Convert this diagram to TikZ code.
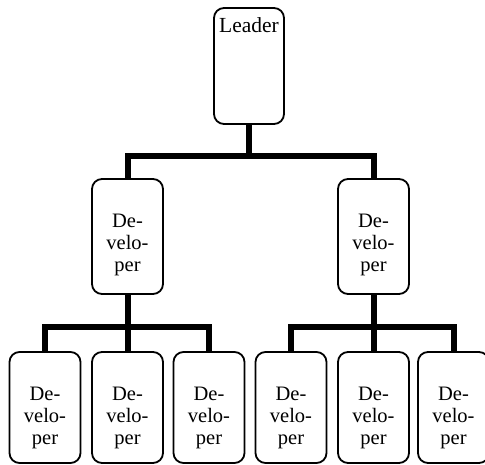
\documentclass[tikz,border=0pt]{standalone}
\usepackage{fontspec}
\setmainfont{Liberation Serif}
\begin{document}
\begin{tikzpicture}[x=1pt,y=-1pt,
  box/.style={draw=black, line width=1.8pt, rounded corners=10pt, fill=white,
    minimum width=71pt, inner sep=0pt},
  devtext/.style={anchor=north, inner sep=0pt, align=center, yshift=-36pt,
    font=\fontsize{20.5}{21.8}\selectfont},
  dev/.style={box, label={[devtext]north:De-\\velo-\\per}},
  conn/.style={draw=black, line width=6pt, line join=miter}]
\useasboundingbox (0,0) rectangle (485,465);
% top
\node[box, minimum width=70pt, minimum height=116pt,
  label={[anchor=north, font=\fontsize{21.5}{24}\selectfont, inner sep=0pt, yshift=-10pt]north:Leader}] (leader) at (249,66) {};
% middle
\node[dev, minimum height=115pt] (mid1) at (127.5,236.5) {};
\node[dev, minimum height=115pt] (mid2) at (373.5,236.5) {};
% bottom
\node[dev, minimum height=111pt] (b1) at (45,407.5) {};
\node[dev, minimum height=111pt] (b2) at (127.5,407.5) {};
\node[dev, minimum height=111pt] (b3) at (209,407.5) {};
\node[dev, minimum height=111pt] (b4) at (291,407.5) {};
\node[dev, minimum height=111pt] (b5) at (373.5,407.5) {};
\node[dev, minimum height=111pt] (b6) at (453.5,407.5) {};
% junctions
\coordinate (j0) at (249,156.5);
\coordinate (j1) at (127.5,327);
\coordinate (j2) at (373.5,327);
\draw[conn] (leader.south) -- (j0);
\draw[conn] (mid1.north) |- (j0) -| (mid2.north);
\draw[conn] (mid1.south) -- (j1);
\draw[conn] (b1.north) |- (j1) -| (b3.north);
\draw[conn] (b2.north) -- (j1);
\draw[conn] (mid2.south) -- (j2);
\draw[conn] (b4.north) |- (j2) -| (b6.north);
\draw[conn] (b5.north) -- (j2);
\end{tikzpicture}
\end{document}
